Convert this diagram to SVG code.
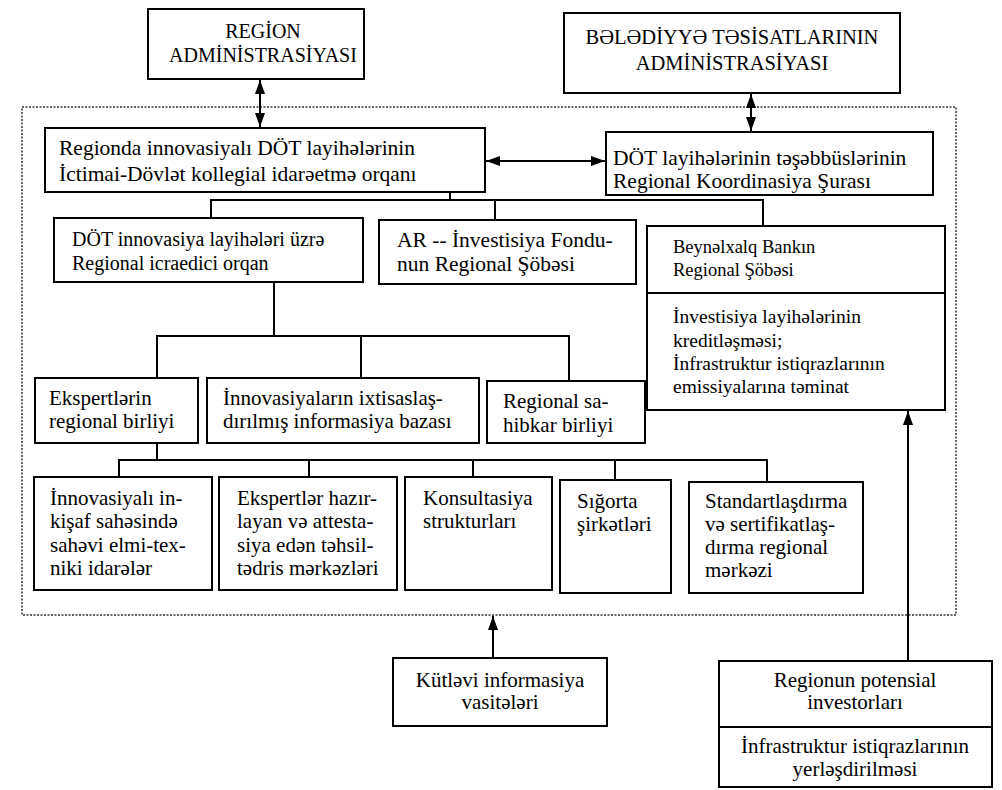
<svg xmlns="http://www.w3.org/2000/svg" width="1002" height="790" viewBox="0 0 1002 790">
<style>
.box{fill:#fff;stroke:#000;stroke-width:2}
.t{font-family:"Liberation Serif","Times New Roman",serif;font-size:21px;fill:#000}
.big{font-size:21.5px}
.m{font-size:20px}
.h{font-size:18.5px}
.s{font-size:19.5px}
.c{text-anchor:middle}
.ln{fill:none;stroke:#000;stroke-width:2}
.frame{fill:none;stroke:#333;stroke-width:1.5;stroke-dasharray:2 1.5}
</style>
<defs>
<marker id="ah" viewBox="0 0 14 10" markerWidth="14" markerHeight="10" refX="14" refY="5" orient="auto-start-reverse" markerUnits="userSpaceOnUse">
<path d="M0,0 L14,5 L0,10 z" fill="#000"/>
</marker>
</defs>
<rect width="1002" height="790" fill="#fff"/>
<rect class="frame" x="22" y="107" width="934" height="508"/>

<g id="connectors">
<line class="ln" x1="260" y1="80" x2="260" y2="127" marker-start="url(#ah)" marker-end="url(#ah)"/>
<line class="ln" x1="751" y1="94" x2="751" y2="131" marker-start="url(#ah)" marker-end="url(#ah)"/>
<line class="ln" x1="486" y1="161" x2="605" y2="161" marker-start="url(#ah)" marker-end="url(#ah)"/>
<polyline class="ln" points="450,192 450,200"/>
<polyline class="ln" points="211,218 211,200 763,200 763,226"/>
<line class="ln" x1="495" y1="200" x2="495" y2="220"/>
<polyline class="ln" points="274,282 274,336"/>
<polyline class="ln" points="157,378 157,336 569,336 569,381"/>
<line class="ln" x1="361" y1="336" x2="361" y2="378"/>
<polyline class="ln" points="157,443 157,460"/>
<polyline class="ln" points="119,477 119,460 767,460 767,482"/>
<line class="ln" x1="309" y1="460" x2="309" y2="477"/>
<line class="ln" x1="473" y1="460" x2="473" y2="477"/>
<line class="ln" x1="615" y1="460" x2="615" y2="480"/>
<line class="ln" x1="493" y1="658" x2="493" y2="616" marker-end="url(#ah)"/>
<line class="ln" x1="908" y1="661" x2="908" y2="411" marker-end="url(#ah)"/>
</g>

<g id="region-admin">
<rect class="box" x="148" y="9" width="216" height="70"/>
<text class="t m c" x="263" y="38">REGİON</text>
<text class="t m c" x="263" y="62">ADMİNİSTRASİYASI</text>
</g>

<g id="belediyye-admin">
<rect class="box" x="564" y="13" width="336" height="80"/>
<text class="t c" x="732" y="44" style="font-size:20.5px">BƏLƏDİYYƏ TƏSİSATLARININ</text>
<text class="t c" x="732" y="70" style="font-size:20.5px">ADMİNİSTRASİYASI</text>
</g>

<g id="kollegial-organ">
<rect class="box" x="45" y="128" width="440" height="64"/>
<text class="t big" x="59" y="155">Regionda innovasiyalı DÖT layihələrinin</text>
<text class="t big" x="59" y="181">İctimai-Dövlət kollegial idarəetmə orqanı</text>
</g>

<g id="koordinasiya-surasi">
<rect class="box" x="606" y="132" width="327" height="63"/>
<text class="t big" x="613" y="165">DÖT layihələrinin təşəbbüslərinin</text>
<text class="t big" x="613" y="188">Regional Koordinasiya Şurası</text>
</g>

<g id="icraedici-organ">
<rect class="box" x="54" y="218" width="309" height="64"/>
<text class="t m" x="72" y="246">DÖT innovasiya layihələri üzrə</text>
<text class="t m" x="72" y="270">Regional icraedici orqan</text>
</g>

<g id="investisiya-fondu">
<rect class="box" x="379" y="220" width="257" height="64"/>
<text class="t big" x="397" y="247">AR -- İnvestisiya Fondu-</text>
<text class="t big" x="397" y="271">nun Regional Şöbəsi</text>
</g>

<g id="beynelxalq-bank">
<rect class="box" x="647" y="226" width="298" height="184"/>
<line class="ln" x1="647" y1="293" x2="945" y2="293"/>
<text class="t h" x="673" y="253">Beynəlxalq Bankın</text>
<text class="t h" x="673" y="276">Regional Şöbəsi</text>
<text class="t s" x="673" y="323">İnvestisiya layihələrinin</text>
<text class="t s" x="673" y="347">kreditləşməsi;</text>
<text class="t s" x="673" y="370">İnfrastruktur istiqrazlarının</text>
<text class="t s" x="673" y="393">emissiyalarına təminat</text>
</g>

<g id="ekspertler-birliyi">
<rect class="box" x="35" y="378" width="163" height="65"/>
<text class="t" x="49" y="405">Ekspertlərin</text>
<text class="t" x="49" y="428">regional birliyi</text>
</g>

<g id="informasiya-bazasi">
<rect class="box" x="207" y="378" width="272" height="65"/>
<text class="t" x="223" y="405">İnnovasiyaların ixtisaslaş-</text>
<text class="t" x="223" y="428">dırılmış informasiya bazası</text>
</g>

<g id="sahibkar-birliyi">
<rect class="box" x="487" y="381" width="158" height="62"/>
<text class="t" x="503" y="408">Regional sa-</text>
<text class="t" x="503" y="432">hibkar birliyi</text>
</g>

<g id="elmi-texniki">
<rect class="box" x="34" y="477" width="178" height="113"/>
<text class="t" x="50" y="505">İnnovasiyalı in-</text>
<text class="t" x="50" y="528">kişaf sahəsində</text>
<text class="t" x="50" y="552">sahəvi elmi-tex-</text>
<text class="t" x="50" y="575">niki idarələr</text>
</g>

<g id="tehsil-merkezleri">
<rect class="box" x="219" y="477" width="178" height="113"/>
<text class="t" x="237" y="505">Ekspertlər hazır-</text>
<text class="t" x="237" y="528">layan və attesta-</text>
<text class="t" x="237" y="552">siya edən təhsil-</text>
<text class="t" x="237" y="575">tədris mərkəzləri</text>
</g>

<g id="konsultasiya">
<rect class="box" x="405" y="477" width="147" height="113"/>
<text class="t" x="423" y="505">Konsultasiya</text>
<text class="t" x="423" y="528">strukturları</text>
</g>

<g id="sigorta">
<rect class="box" x="560" y="480" width="111" height="113"/>
<text class="t" x="577" y="508">Sığorta</text>
<text class="t" x="577" y="531">şirkətləri</text>
</g>

<g id="standartlasdirma">
<rect class="box" x="689" y="482" width="174" height="111"/>
<text class="t" x="705" y="508">Standartlaşdırma</text>
<text class="t" x="705" y="531">və sertifikatlaş-</text>
<text class="t" x="705" y="554">dırma regional</text>
<text class="t" x="705" y="577">mərkəzi</text>
</g>

<g id="kutlevi-informasiya">
<rect class="box" x="393" y="658" width="214" height="68"/>
<text class="t c" x="500" y="687">Kütləvi informasiya</text>
<text class="t c" x="500" y="709">vasitələri</text>
</g>

<g id="potensial-investorlar">
<rect class="box" x="719" y="661" width="273" height="126"/>
<line class="ln" x1="719" y1="727" x2="992" y2="727"/>
<text class="t c" x="855" y="687">Regionun potensial</text>
<text class="t c" x="855" y="709">investorları</text>
<text class="t c" x="855" y="753">İnfrastruktur istiqrazlarının</text>
<text class="t c" x="855" y="776">yerləşdirilməsi</text>
</g>
</svg>
